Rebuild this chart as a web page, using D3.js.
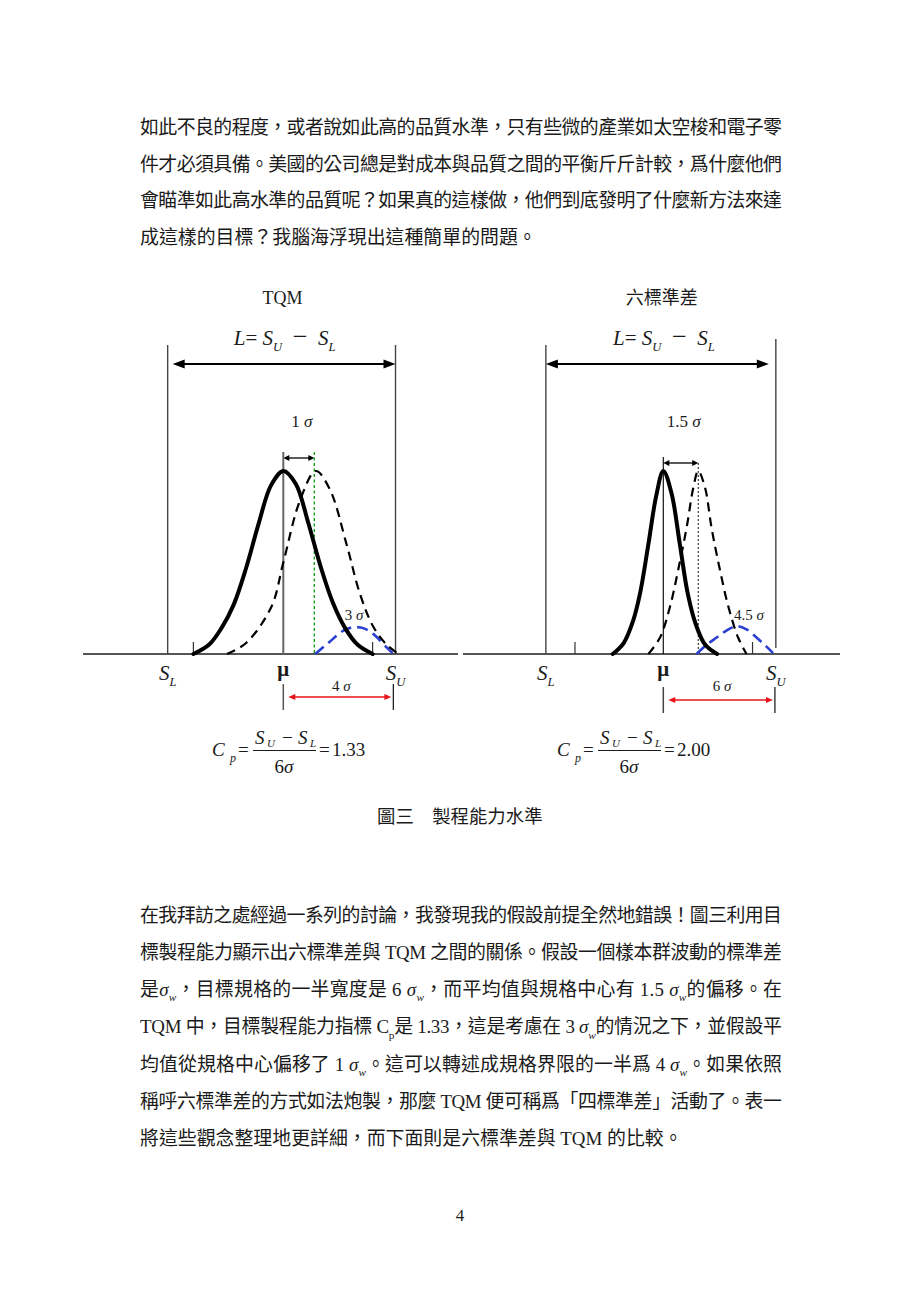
<!DOCTYPE html>
<html><head><meta charset="utf-8">
<script src="https://cdn.jsdelivr.net/npm/d3@7/dist/d3.min.js"></script>
<style>html,body{margin:0;padding:0;background:#fff;}svg{display:block;}</style>
</head><body>
<script>
// ---------------- data ----------------
const panelNames   = ["TQM", "六標準差"];
const shiftSigma   = [1, 1.5];            // mean shift, in sigma
const shiftLabels  = ["1", "1.5"];
const specLower    = [-3.73, -5.04];      // S_L position, in sigma from mu
const specUpper    = [3.62, 4.83];        // S_U position, in sigma from mu
const halfBar      = [3.55, 4.79];        // end bar of the mu -> S_U arrow
const halfLabels   = ["4", "6"];
const footTicks    = [[-2.9, 2.88], [-3.79, 3.83]];
const tailLabels   = ["3", "4.5"];
const tailLabelAt  = [2.28, 3.68];
const cpValues     = ["1.33", "2.00"];

// curves: [position in sigma from mu, height relative to peak]
const tqmSolid = [[-2.9,0],[-2.4,0.05],[-2.0,0.14],[-1.6,0.27],[-1.2,0.47],[-0.8,0.71],[-0.4,0.92],[0,1],[0.4,0.93],[0.8,0.72],[1.2,0.48],[1.6,0.28],[2.0,0.14],[2.4,0.05],[2.88,0]];
const tqmShift = [[-1.82,0],[-1.2,0.06],[-0.38,0.26],[0,0.5],[0.54,0.84],[1.05,1.0],[1.5,0.9],[2.04,0.6],[2.47,0.33],[2.9,0.15],[3.34,0.05],[3.72,0]];
const tqmTail  = [[1.03,0],[1.45,0.06],[1.94,0.128],[2.26,0.146],[2.6,0.14],[2.9,0.11],[3.33,0.037],[3.55,0]];
const sixSolid = [[-2.17,0],[-1.7,0.06],[-1.3,0.18],[-1.0,0.33],[-0.64,0.6],[-0.31,0.86],[0,1],[0.35,0.88],[0.71,0.6],[1.05,0.33],[1.4,0.16],[1.8,0.05],[2.31,0]];
const sixShift = [[-0.64,0],[-0.14,0.09],[0.29,0.26],[0.64,0.46],[1.0,0.69],[1.29,0.91],[1.5,1],[1.79,0.91],[2.07,0.69],[2.43,0.46],[2.79,0.26],[3.21,0.09],[3.57,0]];
const sixTail  = [[1.43,0],[1.86,0.05],[2.29,0.09],[2.71,0.128],[3.14,0.152],[3.57,0.135],[4.0,0.09],[4.43,0.04],[4.71,0.005]];
const solidCurves = [tqmSolid, sixSolid];
const shiftCurves = [tqmShift, sixShift];
const tailCurves  = [tqmTail, sixTail];

// text
const NB = "\u00a0";
const topLines = [
  [["如此不良的程度，或者說如此高的品質水準，只有些微的產業如太空梭和電子零"]],
  [["件才必須具備。美國的公司總是對成本與品質之間的平衡斤斤計較，爲什麼他們"]],
  [["會瞄準如此高水準的品質呢？如果真的這樣做，他們到底發明了什麼新方法來達"]],
  [["成這樣的目標？我腦海浮現出這種簡單的問題。"]]
];
const bodyLines = [
  [["在我拜訪之處經過一系列的討論，我發現我的假設前提全然地錯誤！圖三利用目"]],
  [["標製程能力顯示出六標準差與 TQM 之間的關係。假設一個樣本群波動的標準差"]],
  [["是"],["σ","i"],["w","isub"],["，目標規格的一半寬度是 6" + NB],["σ","i"],["w","isub"],["，而平均值與規格中心有 1.5" + NB],["σ","i"],["w","isub"],["的偏移。在"]],
  [["TQM 中，目標製程能力指標 C"],["p","sub"],["是 1.33，這是考慮在 3" + NB],["σ","i"],["w","isub"],["的情況之下，並假設平"]],
  [["均值從規格中心偏移了 1" + NB],["σ","i"],["w","isub"],["。這可以轉述成規格界限的一半爲 4" + NB],["σ","i"],["w","isub"],["。如果依照"]],
  [["稱呼六標準差的方式如法炮製，那麼 TQM 便可稱爲「四標準差」活動了。表一"]],
  [["將這些觀念整理地更詳細，而下面則是六標準差與 TQM 的比較。"]]
];
const captionText = "圖三　製程能力水準";
const pageNumber = "4";

// ---------------- layout ----------------
const W = 920, H = 1301;
const SERIF = "'Liberation Serif','Times New Roman',serif";
const MIX = "'Liberation Serif','Noto Sans CJK TC',serif";
const CJK = "'Noto Sans CJK TC','Noto Sans CJK SC',sans-serif";
const INK = "#1a1a1a";

const svg = d3.select("body").append("svg").attr("width", W).attr("height", H)
  .style("background", "#fff");

function rich(sel, segs, size) {
  let shift = 0;
  segs.forEach(([t, st]) => {
    st = st || "";
    const isSub = (st === "sub" || st === "isub");
    const isItalic = (st === "i" || st === "isub");
    const isBig = (st === "big");
    const target = isSub ? size * 0.28 : 0;
    const ts = sel.append("tspan").text(t);
    if (target - shift !== 0) ts.attr("dy", target - shift);
    shift = target;
    if (isItalic) ts.attr("font-style", "italic");
    if (isSub) ts.attr("font-size", size * 0.6);
    if (isBig) ts.attr("font-size", size * 1.25);
  });
  return sel;
}

function paragraph(lines, x0, x1, y0, step, size) {
  lines.forEach((segs, i) => {
    const t = svg.append("text").attr("x", x0).attr("y", y0 + i * step)
      .attr("font-family", MIX).attr("font-size", size).attr("fill", INK);
    rich(t, segs, size);
    if (i < lines.length - 1) {
      const w = t.node().getComputedTextLength();
      const n = segs.map(s => s[0]).join("").length;
      const ls = (x1 - x0 - w) / (n - 1);
      t.attr("letter-spacing", ls);
    }
  });
}

paragraph(topLines, 140, 782, 134, 36.7, 18.9);
paragraph(bodyLines, 140, 782, 921.5, 37.3, 18.9);

// ---------------- panels ----------------
const muPx = [283.3, 663.3];
const sigmaPx = [31, 23.3];
const baseRange = [[83, 458], [463, 840]];
const yScale = d3.scaleLinear().domain([0, 1]).range([654, 471]);
const specTop = [[345, 345], [345, 339]];
const specBottom = [[654, 654], [654, 648]];
const muTop = [452, 457];
const smallArrowY = [458, 463];
const arrowInset = [[5, 0], [0, 7]];

function dblArrow(g, x1, x2, y, hl, hw, color, sw) {
  g.append("line").attr("x1", x1 + hl * 0.7).attr("x2", x2 - hl * 0.7)
    .attr("y1", y).attr("y2", y).attr("stroke", color).attr("stroke-width", sw);
  g.append("path").attr("d", `M${x1},${y}L${x1 + hl},${y - hw / 2}L${x1 + hl},${y + hw / 2}Z`).attr("fill", color);
  g.append("path").attr("d", `M${x2},${y}L${x2 - hl},${y - hw / 2}L${x2 - hl},${y + hw / 2}Z`).attr("fill", color);
}
function vline(g, x, y1, y2, color, sw, dash) {
  const l = g.append("line").attr("x1", x).attr("x2", x).attr("y1", y1).attr("y2", y2)
    .attr("stroke", color).attr("stroke-width", sw);
  if (dash) l.attr("stroke-dasharray", dash);
  return l;
}

panelNames.forEach((name, p) => {
  const g = svg.append("g");
  const x = d3.scaleLinear().domain([0, 1]).range([muPx[p], muPx[p] + sigmaPx[p]]);
  const y = yScale;
  const xl = x(specLower[p]), xu = x(specUpper[p]);
  const line = d3.line().x(d => x(d[0])).y(d => y(d[1])).curve(d3.curveCatmullRom.alpha(0.5));

  // title
  g.append("text").attr("x", (xl + xu) / 2 + 1).attr("y", 304)
    .attr("text-anchor", "middle").attr("font-size", 18).attr("fill", INK)
    .attr("font-family", p === 0 ? SERIF : CJK).text(name);

  // L = SU - SL
  const lt = g.append("text").attr("x", (xl + xu) / 2 + 3).attr("y", 345)
    .attr("text-anchor", "middle").attr("font-family", SERIF).attr("font-size", 21).attr("fill", INK);
  rich(lt, [["L", "i"], ["=" + NB], ["S", "i"], ["U", "isub"], [NB + NB], ["\u2212", "big"], [NB + NB], ["S", "i"], ["L", "isub"]], 21);

  // baseline
  g.append("line").attr("x1", baseRange[p][0]).attr("x2", baseRange[p][1])
    .attr("y1", y(0)).attr("y2", y(0)).attr("stroke", "#555").attr("stroke-width", 2);

  // spec limits
  vline(g, xl, specTop[p][0], specBottom[p][0], "#444", 1.4);
  vline(g, xu, specTop[p][1], specBottom[p][1], "#444", 1.4);
  dblArrow(g, xl + arrowInset[p][0], xu - arrowInset[p][1], 364, 12, 9, "#000", 1.8);

  // shift label + arrow
  const st = g.append("text").attr("x", x(shiftSigma[p] / 2) + 3).attr("y", 427)
    .attr("text-anchor", "middle").attr("font-family", SERIF).attr("font-size", 17).attr("fill", INK);
  rich(st, [[shiftLabels[p] + NB], ["σ", "i"]], 17);
  dblArrow(g, x(0), x(shiftSigma[p]), smallArrowY[p], 6, 6, "#000", 1.3);

  // mu line
  vline(g, x(0), muTop[p], y(0), p === 0 ? "#666" : "#111", p === 0 ? 2 : 1.2);
  // shifted mean line
  if (p === 0) vline(g, x(shiftSigma[p]), muTop[p], y(0), "#0a9a0a", 1.3, "3,2.5");
  else vline(g, x(shiftSigma[p]), smallArrowY[p], y(0), "#111", 1, "2,2");

  // foot ticks
  footTicks[p].forEach(t => vline(g, x(t), y(0) - 12, y(0), "#333", 1.2));

  // curves
  g.append("path").attr("d", line(tailCurves[p])).attr("fill", "none")
    .attr("stroke", "#2b3fd0").attr("stroke-width", 2.6).attr("stroke-dasharray", "11,6");
  g.append("path").attr("d", line(shiftCurves[p])).attr("fill", "none")
    .attr("stroke", "#000").attr("stroke-width", 2.2).attr("stroke-dasharray", "9,6");
  g.append("path").attr("d", line(solidCurves[p])).attr("fill", "none")
    .attr("stroke", "#000").attr("stroke-width", 4).attr("stroke-linecap", "round");

  // tail label
  const tl = g.append("text").attr("x", x(tailLabelAt[p])).attr("y", 620)
    .attr("text-anchor", "middle").attr("font-family", SERIF).attr("font-size", 15).attr("fill", "#222");
  rich(tl, [[tailLabels[p] + NB], ["σ", "i"]], 15);

  // axis labels
  const sl = g.append("text").attr("x", xl).attr("y", 680).attr("text-anchor", "middle")
    .attr("font-family", SERIF).attr("font-size", 21).attr("fill", INK);
  rich(sl, [["S", "i"], ["L", "isub"]], 21);
  g.append("text").attr("x", x(0)).attr("y", 676).attr("text-anchor", "middle")
    .attr("font-family", SERIF).attr("font-size", 21).attr("font-weight", "bold").attr("fill", INK).text("μ");
  const su = g.append("text").attr("x", xu).attr("y", 680).attr("text-anchor", "middle")
    .attr("font-family", SERIF).attr("font-size", 21).attr("fill", INK);
  rich(su, [["S", "i"], ["U", "isub"]], 21);

  // half-spec arrow
  const barTop = 684 + p * 3, barBot = 710 + p * 3;
  vline(g, x(0), barTop, barBot, p === 0 ? "#555" : "#444", 1.5);
  vline(g, x(halfBar[p]), barTop, barBot, "#222", 1.3);
  dblArrow(g, x(0) + 5, x(halfBar[p]) - 2, 697 + p * 3, 7, 6, "#e8141a", 1.5);
  const ht = g.append("text").attr("x", (x(0) + x(halfBar[p])) / 2 + 3).attr("y", 691)
    .attr("text-anchor", "middle").attr("font-family", SERIF).attr("font-size", 15).attr("fill", INK);
  rich(ht, [[halfLabels[p] + NB], ["σ", "i"]], 15);

  // Cp formula
  const x0 = p === 0 ? 212 : 557;
  const fs = 19;
  const ft = (xx, yy, txt, opts = {}) => {
    const t = g.append("text").attr("x", xx).attr("y", yy).attr("font-family", SERIF)
      .attr("font-size", opts.size || fs).attr("fill", INK).text(txt);
    if (opts.italic) t.attr("font-style", "italic");
    if (opts.anchor) t.attr("text-anchor", opts.anchor);
    return t;
  };
  ft(x0, 756, "C", { italic: true });
  ft(x0 + 18, 762, "p", { italic: true, size: 12 });
  ft(x0 + 26, 756, "=");
  g.append("line").attr("x1", x0 + 41).attr("x2", x0 + 104).attr("y1", 750.5).attr("y2", 750.5)
    .attr("stroke", INK).attr("stroke-width", 1);
  ft(x0 + 43, 744, "S", { italic: true });
  ft(x0 + 55, 747, "U", { italic: true, size: 11 });
  ft(x0 + 70, 744, "−");
  ft(x0 + 86, 744, "S", { italic: true });
  ft(x0 + 98, 747, "L", { italic: true, size: 11 });
  const den = ft(x0 + 72, 773, "", { anchor: "middle" });
  rich(den, [["6"], ["σ", "i"]], fs);
  ft(x0 + 107, 756, "=");
  ft(x0 + 120, 756, cpValues[p]);
});

// caption + page number
svg.append("text").attr("x", 377).attr("y", 823).attr("font-family", CJK)
  .attr("font-size", 18.4).attr("fill", INK).text(captionText);
svg.append("text").attr("x", 460).attr("y", 1221).attr("text-anchor", "middle")
  .attr("font-family", SERIF).attr("font-size", 17).attr("fill", INK).text(pageNumber);
</script>
</body></html>
